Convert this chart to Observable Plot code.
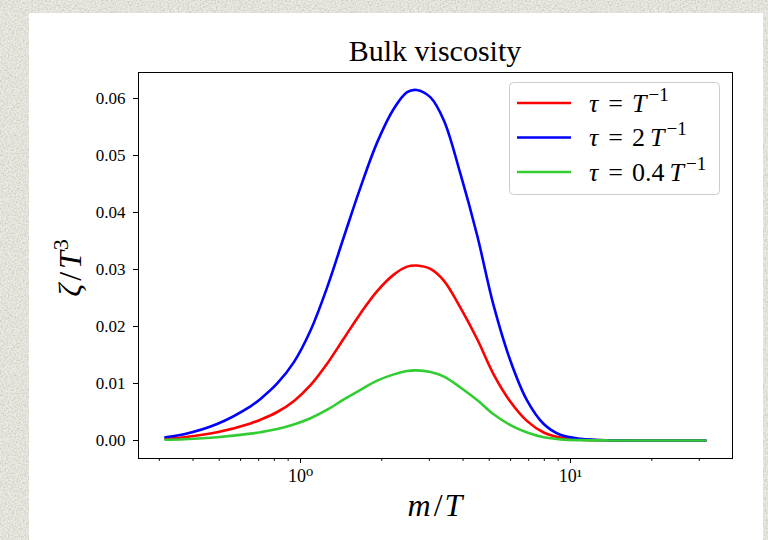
<!DOCTYPE html>
<html>
<head>
<meta charset="utf-8">
<script src="https://cdn.jsdelivr.net/npm/d3@7"></script>
<script src="https://cdn.jsdelivr.net/npm/@observablehq/plot@0.6"></script>
<style>
  html, body { margin: 0; padding: 0; }
  body {
    width: 768px; height: 540px; overflow: hidden; position: relative;
    background-color: #ebeae3;
    background-image: url("data:image/svg+xml,%3Csvg xmlns='http://www.w3.org/2000/svg' width='240' height='240'%3E%3Cfilter id='n'%3E%3CfeTurbulence type='fractalNoise' baseFrequency='0.6' numOctaves='3' stitchTiles='stitch'/%3E%3CfeColorMatrix values='0 0 0 0 0.45 0 0 0 0 0.45 0 0 0 0 0.40 1.2 0 0 0 -0.45'/%3E%3C/filter%3E%3Crect width='100%25' height='100%25' filter='url(%23n)'/%3E%3C/svg%3E");
  }
  #card { position: absolute; left: 29px; top: 13px; width: 734px; height: 527px; background: #fff; }
  #chart { position: absolute; left: 0; top: 0; }
  #overlay { position: absolute; left: 0; top: 0; pointer-events: none; }
</style>
</head>
<body>
<div id="card"></div>
<div id="chart"></div>
<svg id="overlay" width="768" height="540" xmlns="http://www.w3.org/2000/svg"></svg>
<script>
// ---- data ----
const mOverT = [0.316, 0.37, 0.491, 0.653, 0.711, 0.82, 0.944, 1.089, 1.256, 1.447, 1.668, 1.923, 2.216, 2.483, 2.69, 3.03, 3.40, 3.91, 4.51, 5.19, 5.99, 6.91, 7.96, 9.17, 10.9, 14.1, 19.8, 31.6];
const zetaTau1  = [0.0003, 0.00057, 0.00145, 0.0030, 0.00365, 0.0050, 0.0069, 0.0097, 0.0135, 0.0179, 0.0223, 0.0262, 0.0291, 0.0305, 0.0307, 0.0301, 0.0280, 0.0233, 0.0178, 0.0116, 0.0068, 0.0034, 0.0014, 0.0005, 0.00015, 0.00002, 0, 0];
const zetaTau2  = [0.00058, 0.0011, 0.0029, 0.0060, 0.0073, 0.0100, 0.0137, 0.0193, 0.0269, 0.0357, 0.0444, 0.0523, 0.0582, 0.0611, 0.0615, 0.0602, 0.0561, 0.0468, 0.0360, 0.0237, 0.0140, 0.0070, 0.0029, 0.0010, 0.0003, 0.00003, 0, 0];
const zetaTau04 = [0.00012, 0.00023, 0.00058, 0.0012, 0.00146, 0.0020, 0.0028, 0.0039, 0.0054, 0.0072, 0.0089, 0.0105, 0.0116, 0.0122, 0.0123, 0.0120, 0.0112, 0.0093, 0.0071, 0.0046, 0.0027, 0.0014, 0.00056, 0.0002, 0.00006, 0.00001, 0, 0];
const seriesKeys   = ["tau1", "tau2", "tau04"];
const seriesColors = ["#ff0000", "#0000ff", "#32cd32"];
const legendCoefs  = ["", "2", "0.4"];
const yTicks       = [0, 0.01, 0.02, 0.03, 0.04, 0.05, 0.06];
const xMajorTicks  = [1, 10];
const xMajorLabels = ["10\u2070", "10\u00b9"];
const xMinorTicks  = [0.3, 0.4, 0.5, 0.6, 0.7, 0.8, 0.9, 2, 3, 4, 5, 6, 7, 8, 9, 20, 30];
const titleText = "Bulk viscosity";

// ---- build table ----
const seriesValues = [zetaTau1, zetaTau2, zetaTau04];
const rows = [];
seriesKeys.forEach((k, i) => mOverT.forEach((x, j) => rows.push({series: k, x, y: seriesValues[i][j]})));

const serif = "'Liberation Serif', 'DejaVu Serif', serif";
const chart = Plot.plot({
  width: 768,
  height: 540,
  marginLeft: 138,
  marginRight: 36,
  marginTop: 72,
  marginBottom: 82,
  style: {background: "transparent", fontFamily: serif, fontSize: "17px", color: "#000"},
  x: {type: "log", domain: [Math.pow(10, -0.6), Math.pow(10, 1.6)]},
  y: {domain: [-0.00316, 0.06456]},
  color: {domain: seriesKeys, range: seriesColors},
  marks: [
    Plot.line(rows, {x: "x", y: "y", z: "series", stroke: "series", strokeWidth: 2.6, curve: "catmull-rom"}),
    Plot.frame({stroke: "#000", strokeWidth: 1}),
    Plot.axisY({ticks: yTicks, tickFormat: d3.format(".2f"), tickSize: 5, tickPadding: 8, label: null}),
    Plot.axisX({ticks: xMajorTicks, tickFormat: d => xMajorLabels[xMajorTicks.indexOf(d)], tickSize: 5, tickPadding: 6, fontSize: 18, label: null}),
    Plot.axisX({ticks: xMinorTicks, tickFormat: () => "", tickSize: 2.8, tickPadding: 0, label: null})
  ]
});
document.getElementById("chart").appendChild(chart);

// ---- text overlay: title, axis labels, legend ----
const ov = d3.select("#overlay");
ov.append("text").attr("x", 435).attr("y", 61).attr("text-anchor", "middle")
  .attr("font-family", serif).attr("font-size", 30).attr("fill", "#000").text(titleText);

const xl = ov.append("text").attr("x", 435).attr("y", 516).attr("text-anchor", "middle")
  .attr("font-family", serif).attr("font-size", 32).attr("fill", "#000");
xl.append("tspan").attr("font-style", "italic").text("m");
xl.append("tspan").attr("dx", 3).text("/");
xl.append("tspan").attr("dx", 2).attr("font-style", "italic").text("T");

const yl = ov.append("text").attr("transform", "translate(81,268) rotate(-90)").attr("text-anchor", "middle")
  .attr("font-family", serif).attr("font-size", 32).attr("fill", "#000");
yl.append("tspan").attr("font-style", "italic").text("\u03b6");
yl.append("tspan").attr("dx", 3).text("/");
yl.append("tspan").attr("dx", 3).attr("font-style", "italic").text("T");
yl.append("tspan").attr("dx", 1).attr("font-size", 22).attr("dy", -13).text("3");

// legend
const lg = ov.append("g");
lg.append("rect").attr("x", 509.5).attr("y", 82.5).attr("width", 210).attr("height", 112).attr("rx", 4)
  .attr("fill", "#fff").attr("fill-opacity", 0.8).attr("stroke", "#cccccc").attr("stroke-width", 1);
seriesColors.forEach((c, i) => {
  const yy = 103 + i * 34.5;
  lg.append("line").attr("x1", 517).attr("x2", 571).attr("y1", yy).attr("y2", yy)
    .attr("stroke", c).attr("stroke-width", 2.6);
  const t = lg.append("text").attr("x", 589).attr("y", yy + 8.5)
    .attr("font-family", serif).attr("font-size", 26).attr("fill", "#000");
  t.append("tspan").attr("font-style", "italic").text("\u03c4");
  t.append("tspan").attr("dx", 10).text("=");
  if (legendCoefs[i]) t.append("tspan").attr("dx", 9).text(legendCoefs[i]);
  t.append("tspan").attr("dx", legendCoefs[i] ? 5 : 9).attr("font-style", "italic").text("T");
  t.append("tspan").attr("dx", 2).attr("font-size", 19).attr("dy", -11).text("\u22121");
});
</script>
</body>
</html>
